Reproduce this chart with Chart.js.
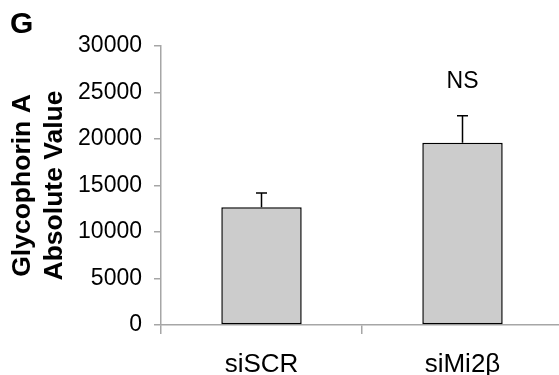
<!DOCTYPE html>
<html>
<head>
<meta charset="utf-8">
<script src="https://cdn.jsdelivr.net/npm/chart.js@4.4.1/dist/chart.umd.min.js"></script>
<style>
html,body{margin:0;padding:0;background:#fff;overflow:hidden;width:559px;height:375px;}
canvas{display:block;}
</style>
</head>
<body>
<canvas id="c" width="565" height="375" style="width:565px;height:375px"></canvas>
<script>
const categories = ['siSCR', 'siMi2β'];
const means = [12650, 19600];
const errorsUp = [1550, 2900];
const significance = ['', 'NS'];
const yTickValues = [0, 5000, 10000, 15000, 20000, 25000, 30000];
const yTitleLines = ['Glycophorin A', 'Absolute Value'];
const panelLetter = 'G';

const FONT = '"Liberation Sans", Arial, sans-serif';
const AXIS_COLOR = '#a6a6a6';

const extras = {
  id: 'extras',
  afterDatasetsDraw(chart) {
    const ctx = chart.ctx;
    const y = chart.scales.y;
    const meta = chart.getDatasetMeta(0);
    ctx.save();
    meta.data.forEach((bar, i) => {
      const top = y.getPixelForValue(means[i] + errorsUp[i]);
      const base = y.getPixelForValue(means[i]);
      ctx.strokeStyle = '#000';
      ctx.lineWidth = 1.5;
      ctx.beginPath();
      ctx.moveTo(bar.x, base);
      ctx.lineTo(bar.x, top);
      ctx.moveTo(bar.x - 5.5, top);
      ctx.lineTo(bar.x + 5.5, top);
      ctx.stroke();
      if (significance[i]) {
        ctx.fillStyle = '#000';
        ctx.font = '23px ' + FONT;
        ctx.textAlign = 'center';
        ctx.textBaseline = 'middle';
        ctx.fillText(significance[i], bar.x, top - 34);
      }
    });
    // y-axis title
    const ca = chart.chartArea;
    const cy = (ca.top + ca.bottom) / 2;
    ctx.fillStyle = '#000';
    ctx.font = 'bold 26.5px ' + FONT;
    ctx.textAlign = 'center';
    ctx.textBaseline = 'middle';
    const xs = [23, 55];
    yTitleLines.forEach((t, k) => {
      ctx.save();
      ctx.translate(xs[k], cy);
      ctx.rotate(-Math.PI / 2);
      ctx.fillText(t, 0, 0);
      ctx.restore();
    });
    // panel letter
    ctx.font = 'bold 30px ' + FONT;
    ctx.textAlign = 'left';
    ctx.textBaseline = 'alphabetic';
    ctx.fillText(panelLetter, 10, 33);
    ctx.restore();
  }
};

new Chart(document.getElementById('c'), {
  type: 'bar',
  data: {
    labels: categories,
    datasets: [{
      data: means,
      backgroundColor: '#cccccc',
      borderColor: '#000000',
      borderWidth: 1.5,
      borderSkipped: false,
      barPercentage: 0.4,
      categoryPercentage: 1.0
    }]
  },
  options: {
    responsive: false,
    devicePixelRatio: 1,
    animation: false,
    layout: { padding: { left: 0, right: 2, top: 46, bottom: 0 } },
    plugins: { legend: { display: false }, tooltip: { enabled: false } },
    scales: {
      x: {
        offset: true,
        grid: { offset: true, drawOnChartArea: false, color: AXIS_COLOR, lineWidth: 1.5, tickLength: 9 },
        border: { color: AXIS_COLOR, width: 1.5 },
        ticks: { color: '#000', font: { family: FONT, size: 26 }, padding: 15, maxRotation: 0 },
        afterFit(s) { s.height = 50; }
      },
      y: {
        min: 0, max: 30000,
        afterBuildTicks(s) { s.ticks = yTickValues.map(v => ({ value: v })); },
        grid: { drawOnChartArea: false, color: AXIS_COLOR, lineWidth: 1.5, tickLength: 7 },
        border: { color: AXIS_COLOR, width: 1.5 },
        ticks: { color: '#000', font: { family: FONT, size: 23 }, padding: 12, callback: v => String(v) },
        afterFit(s) { s.width = 161; }
      }
    }
  },
  plugins: [extras]
});
</script>
</body>
</html>
